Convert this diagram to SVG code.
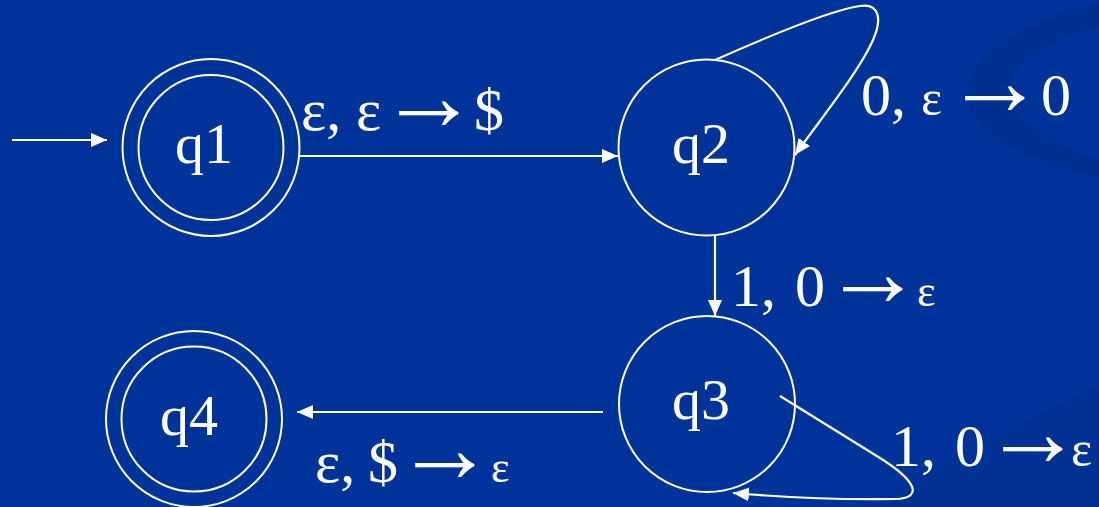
<svg xmlns="http://www.w3.org/2000/svg" width="1099" height="507" viewBox="0 0 1099 507">
<style>
.bg{fill:#003399}
.sw{fill:#00308f}
.st{fill:none;stroke:#fff;stroke-width:2}
.e{fill:none;stroke:#fff;stroke-width:2.2}
.t{font-family:"Liberation Serif","Times New Roman",serif;fill:#fff}
.n{font-size:58px}
.l{font-size:60px}
.s{font-size:44px}
.a{font-size:100px;letter-spacing:-22px}
</style>
<defs>
<marker id="ah" markerUnits="userSpaceOnUse" markerWidth="16" markerHeight="14" refX="16" refY="7" orient="auto">
<path d="M0,0 L16,7 L0,14 Z" fill="#fff"/>
</marker>
</defs>
<rect class="bg" x="0" y="0" width="1099" height="507"/>
<path class="sw" d="M1099,4 C1010,25 955,65 968,105 C980,140 1050,165 1099,178 L1099,160 C1060,148 1015,125 1008,98 C1000,70 1045,40 1099,26 Z"/>
<path class="sw" d="M860,507 L1099,386 L1099,507 Z" opacity="0.6"/>
<g id="q1">
<circle class="st" cx="211" cy="147.5" r="88.5"/>
<circle class="st" cx="211" cy="147.5" r="72.5"/>
<text class="t n" x="204" y="163" text-anchor="middle">q1</text>
</g>
<g id="q2">
<circle class="st" cx="706.5" cy="147.5" r="88"/>
<text class="t n" x="701" y="163" text-anchor="middle">q2</text>
</g>
<g id="q3">
<circle class="st" cx="707" cy="404" r="88"/>
<text class="t n" x="701" y="419" text-anchor="middle">q3</text>
</g>
<g id="q4">
<circle class="st" cx="194" cy="419" r="88"/>
<circle class="st" cx="194" cy="419" r="72.5"/>
<text class="t n" x="189" y="434.5" text-anchor="middle">q4</text>
</g>
<g id="connectors">
<line class="e" x1="12" y1="140" x2="107" y2="140" marker-end="url(#ah)"/>
<line class="e" x1="299" y1="156" x2="618" y2="156" marker-end="url(#ah)"/>
<path class="e" d="M715,60 C760,40 830,10 860,6 C880,3 882,20 873,40 C860,70 820,120 795,155" marker-end="url(#ah)"/>
<line class="e" x1="715" y1="235.5" x2="715" y2="316" marker-end="url(#ah)"/>
<path class="e" d="M780,396 L880,458 C915,480 925,498 895,499 C840,500 780,497 733,493" marker-end="url(#ah)"/>
<line class="e" x1="603" y1="412" x2="297" y2="412" marker-end="url(#ah)"/>
</g>
<g id="labels">
<text class="t l" y="130"><tspan x="301">ε,</tspan><tspan x="356">ε</tspan><tspan class="a" x="379">→</tspan><tspan x="474">$</tspan></text>
<text class="t l" y="115"><tspan x="861">0,</tspan><tspan x="921" style="font-size:50px">ε</tspan><tspan class="a" x="945">→</tspan><tspan x="1041">0</tspan></text>
<text class="t l" y="306"><tspan x="731">1,</tspan><tspan x="795">0</tspan><tspan class="a" x="823">→</tspan><tspan class="s" x="917">ε</tspan></text>
<text class="t l" y="466"><tspan x="891">1,</tspan><tspan x="955">0</tspan><tspan class="a" x="983">→</tspan><tspan x="1071" style="font-size:50px">ε</tspan></text>
<text class="t l" y="482"><tspan x="315">ε,</tspan><tspan x="368" style="letter-spacing:-5px">$</tspan><tspan class="a" x="395">→</tspan><tspan class="s" x="491">ε</tspan></text>
</g>
</svg>
